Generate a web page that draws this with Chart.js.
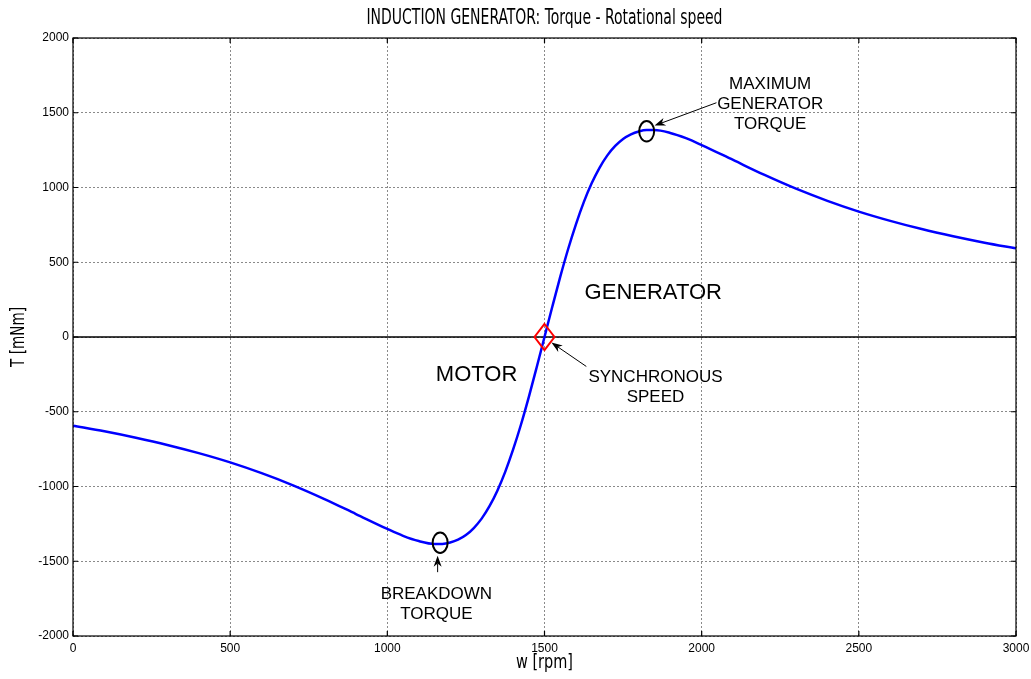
<!DOCTYPE html>
<html>
<head>
<meta charset="utf-8">
<title>Induction generator torque curve</title>
<script src="https://cdn.jsdelivr.net/npm/chart.js@4/dist/chart.umd.min.js"></script>
<style>
  html, body { margin: 0; padding: 0; background: #ffffff; }
  canvas { display: block; }
</style>
</head>
<body>
<canvas id="chart" width="1031" height="679"></canvas>
<script>
// Rotational speed samples [rpm]
const speedRpm = [
  0, 100, 200, 300, 400, 500, 600, 700, 800, 900,
  1000, 1050, 1100, 1150, 1175, 1200, 1225, 1250, 1275, 1300,
  1325, 1350, 1375, 1400, 1425, 1450, 1475, 1500,
  1525, 1550, 1575, 1600, 1625, 1650, 1675, 1700, 1725, 1750,
  1775, 1800, 1825, 1850, 1900, 1950, 2000, 2100, 2200, 2300,
  2400, 2500, 2600, 2700, 2800, 2900, 3000
];
// Electromagnetic torque [mNm] at each speed
const torqueMNm = [
  -593, -631, -674, -722, -777, -839, -911, -992, -1084, -1184,
  -1284, -1330, -1365, -1384, -1384, -1375, -1356, -1325, -1278, -1215,
  -1132, -1028, -902, -754, -587, -402, -204, 0,
  204, 402, 587, 754, 902, 1028, 1132, 1215, 1278, 1325,
  1356, 1375, 1384, 1384, 1365, 1330, 1284, 1184, 1084, 992,
  911, 839, 777, 722, 674, 631, 593
];
const xTickValues = [0, 500, 1000, 1500, 2000, 2500, 3000];
const yTickValues = [-2000, -1500, -1000, -500, 0, 500, 1000, 1500, 2000];

const chartTitle = 'INDUCTION GENERATOR: Torque - Rotational speed';
const xAxisTitle = 'w [rpm]';
const yAxisTitle = 'T [mNm]';

const labelFont = '"Liberation Sans", Arial, Helvetica, sans-serif';
const narrowFont = '"DejaVu Sans Condensed", "Liberation Sans Narrow", "DejaVu Sans", sans-serif';

// Condensed caption: drawn at a given size, squeezed horizontally to a set width
function narrowText(ctx, text, cx, cy, size, width, rotate) {
  ctx.save();
  ctx.font = size + 'px ' + narrowFont;
  ctx.textAlign = 'center';
  ctx.textBaseline = 'middle';
  ctx.fillStyle = '#000';
  const sx = width / ctx.measureText(text).width;
  ctx.translate(cx, cy);
  if (rotate) ctx.rotate(-Math.PI / 2);
  ctx.scale(sx, 1);
  ctx.fillText(text, 0, 0);
  ctx.restore();
}

function drawArrow(ctx, x0, y0, x1, y1) {
  const ang = Math.atan2(y1 - y0, x1 - x0);
  const len = 11, half = 4;
  const c = Math.cos(ang), s = Math.sin(ang);
  ctx.beginPath();
  ctx.moveTo(x0, y0);
  ctx.lineTo(x1 - c * len * 0.7, y1 - s * len * 0.7);
  ctx.lineWidth = 1;
  ctx.strokeStyle = '#000';
  ctx.stroke();
  ctx.beginPath();
  ctx.moveTo(x1, y1);
  ctx.lineTo(x1 - c * len - s * half, y1 - s * len + c * half);
  ctx.lineTo(x1 - c * len * 0.7, y1 - s * len * 0.7);
  ctx.lineTo(x1 - c * len + s * half, y1 - s * len - c * half);
  ctx.closePath();
  ctx.fillStyle = '#000';
  ctx.fill();
}

// Operating-point markers, region labels and pointers, placed in data units
const markup = {
  id: 'markup',
  afterDatasetsDraw(chart) {
    const { ctx, scales: { x, y } } = chart;
    const px = v => x.getPixelForValue(v);
    const py = v => y.getPixelForValue(v);
    ctx.save();

    // breakdown and maximum generator torque markers
    ctx.lineWidth = 2;
    ctx.strokeStyle = '#000';
    [[1168, -1376], [1825, 1376]].forEach(([w, t]) => {
      ctx.beginPath();
      ctx.ellipse(px(w), py(t), 7.5, 10.2, 0, 0, Math.PI * 2);
      ctx.stroke();
    });

    // synchronous speed marker
    const sx = px(1500), sy = py(0);
    ctx.beginPath();
    ctx.moveTo(sx, sy - 13);
    ctx.lineTo(sx + 10, sy);
    ctx.lineTo(sx, sy + 13);
    ctx.lineTo(sx - 10, sy);
    ctx.closePath();
    ctx.strokeStyle = '#ff0000';
    ctx.lineWidth = 2;
    ctx.stroke();

    // pointers
    drawArrow(ctx, px(2047), py(1567), px(1850), py(1414));
    drawArrow(ctx, px(1633), py(-197), px(1522), py(-37));
    drawArrow(ctx, px(1160), py(-1573), px(1160), py(-1464));

    ctx.fillStyle = '#000';
    ctx.textAlign = 'center';
    ctx.textBaseline = 'middle';
    ctx.font = '22px ' + labelFont;
    ctx.fillText('GENERATOR', px(1846), py(297));
    ctx.fillText('MOTOR', px(1284), py(-257));

    ctx.font = '17px ' + labelFont;
    const lines = (w, t, texts) => texts.forEach((s, i) => ctx.fillText(s, px(w), py(t) + i * 20));
    lines(2218, 1688, ['MAXIMUM', 'GENERATOR', 'TORQUE']);
    lines(1853, -271, ['SYNCHRONOUS', 'SPEED']);
    lines(1156, -1721, ['BREAKDOWN', 'TORQUE']);
    ctx.restore();
  },
  afterDraw(chart) {
    const { ctx, chartArea: a, scales: { x, y } } = chart;
    ctx.save();
    ctx.strokeStyle = '#000';
    ctx.lineWidth = 1.2;
    ctx.strokeRect(a.left, a.top, a.right - a.left, a.bottom - a.top);
    const tl = 5;
    ctx.beginPath();
    xTickValues.forEach(v => {
      const p = x.getPixelForValue(v);
      ctx.moveTo(p, a.bottom); ctx.lineTo(p, a.bottom - tl);
      ctx.moveTo(p, a.top); ctx.lineTo(p, a.top + tl);
    });
    yTickValues.forEach(v => {
      const p = y.getPixelForValue(v);
      ctx.moveTo(a.left, p); ctx.lineTo(a.left + tl, p);
      ctx.moveTo(a.right, p); ctx.lineTo(a.right - tl, p);
    });
    ctx.stroke();
    ctx.restore();

    // figure title and axis captions
    const cx = (a.left + a.right) / 2, cy = (a.top + a.bottom) / 2;
    narrowText(ctx, chartTitle, cx, 19, 21, 356, false);
    narrowText(ctx, xAxisTitle, cx, 663, 20, 57, false);
    narrowText(ctx, yAxisTitle, 19, cy, 20, 60, true);
  }
};

const gridStyle = { color: '#8a8a8a', lineWidth: 1, drawTicks: false };
const tickFont = { family: labelFont, size: 12 };

new Chart(document.getElementById('chart'), {
  type: 'line',
  data: {
    datasets: [
      {
        label: 'T(w)',
        data: speedRpm.map((w, i) => ({ x: w, y: torqueMNm[i] })),
        borderColor: '#0000ff',
        borderWidth: 2.5,
        pointRadius: 0,
        cubicInterpolationMode: 'monotone',
        fill: false
      },
      {
        label: 'zero',
        data: [{ x: 0, y: 0 }, { x: 3000, y: 0 }],
        borderColor: '#000000',
        borderWidth: 1.5,
        pointRadius: 0,
        fill: false
      }
    ]
  },
  options: {
    responsive: false,
    animation: false,
    events: [],
    layout: { padding: { left: 0, right: 15, top: 38, bottom: 0 } },
    plugins: {
      legend: { display: false },
      tooltip: { enabled: false },
      title: { display: false }
    },
    scales: {
      x: {
        type: 'linear',
        min: 0, max: 3000,
        afterBuildTicks: s => { s.ticks = xTickValues.map(v => ({ value: v })); },
        afterFit: s => { s.height = 43; s.paddingLeft = 0; s.paddingRight = 0; },
        grid: gridStyle,
        border: { display: false, dash: [2, 2] },
        ticks: { color: '#000', font: tickFont, padding: 5, maxRotation: 0, callback: v => String(v) }
      },
      y: {
        type: 'linear',
        min: -2000, max: 2000,
        afterBuildTicks: s => { s.ticks = yTickValues.map(v => ({ value: v })); },
        afterFit: s => { s.width = 73; s.paddingTop = 0; s.paddingBottom = 0; },
        grid: gridStyle,
        border: { display: false, dash: [2, 2] },
        ticks: { color: '#000', font: tickFont, padding: 4, callback: v => String(v) }
      }
    }
  },
  plugins: [markup]
});
</script>
</body>
</html>
